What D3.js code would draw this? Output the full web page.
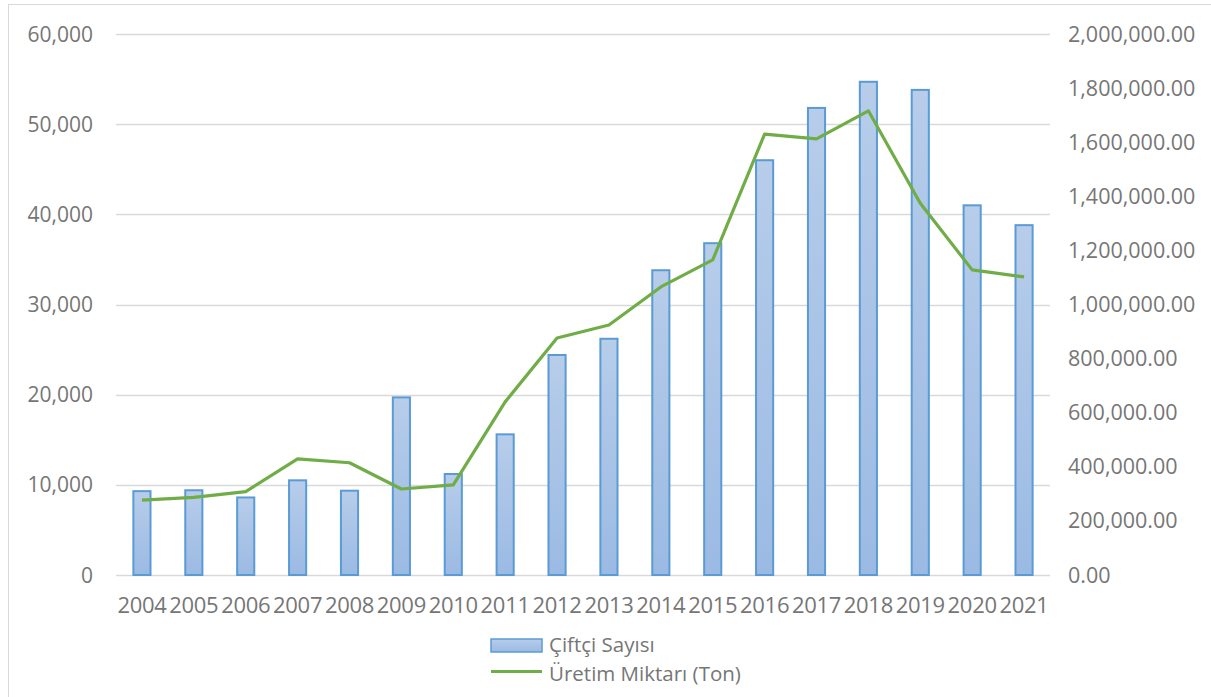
<!DOCTYPE html>
<html><head><meta charset="utf-8">
<script src="https://cdn.jsdelivr.net/npm/d3@7"></script>
<style>body{margin:0;background:#fff}svg{display:block}text{font-family:"Open Sans",sans-serif;fill:#767676}</style>
</head><body>
<script>
const years = ["2004","2005","2006","2007","2008","2009","2010","2011","2012","2013","2014","2015","2016","2017","2018","2019","2020","2021"];
const farmers = [9300,9400,8600,10500,9350,19700,11200,15600,24400,26200,33800,36800,46000,51800,54700,53800,41000,38800];
const production = [277000,287000,308000,429000,415000,318000,333000,640000,876000,924000,1065000,1165000,1630000,1612000,1716000,1374000,1128000,1102000];
const leftTicks = [0,10000,20000,30000,40000,50000,60000];
const rightTicks = [0,200000,400000,600000,800000,1000000,1200000,1400000,1600000,1800000,2000000];
const legendLabels = ["Çiftçi Sayısı","Üretim Miktarı (Ton)"];

const W=1211,H=697;
const svg=d3.select("body").append("svg").attr("width",W).attr("height",H);
const defs=svg.append("defs");
const g=defs.append("linearGradient").attr("id","bg").attr("x1",0).attr("x2",0).attr("y1",0).attr("y2",1);
g.append("stop").attr("offset","0%").attr("stop-color","#b7cdea");
g.append("stop").attr("offset","100%").attr("stop-color","#9bbae3");

svg.append("rect").attr("x",8.5).attr("y",4.5).attr("width",W).attr("height",H).attr("fill","none").attr("stroke","#d9d9d9");

const x=d3.scaleBand().domain(years).range([116,1050]).paddingInner(0.67).paddingOuter(0.335);
const yL=d3.scaleLinear().domain([0,60000]).range([575,34]);
const yR=d3.scaleLinear().domain([0,2000000]).range([575,34]);

svg.append("g").selectAll("line").data(leftTicks).join("line")
 .attr("x1",116).attr("x2",1050).attr("y1",d=>Math.round(yL(d))+0.5).attr("y2",d=>Math.round(yL(d))+0.5)
 .attr("stroke","#d9d9d9").attr("stroke-width",1.3);

const fmtL=d3.format(",");
const fmtR=d3.format(",.2f");
svg.append("g").selectAll("text").data(leftTicks).join("text")
 .attr("x",93).attr("y",d=>yL(d)+7.5).attr("text-anchor","end").attr("font-size",21).text(d=>fmtL(d));
svg.append("g").selectAll("text").data(rightTicks).join("text")
 .attr("x",1068).attr("y",d=>yR(d)+7.5).attr("text-anchor","start").attr("font-size",21.5).text(d=>fmtR(d));
svg.append("g").selectAll("text").data(years).join("text")
 .attr("x",d=>x(d)+x.bandwidth()/2).attr("y",613).attr("text-anchor","middle").attr("font-size",22).attr("letter-spacing",-0.3).text(d=>d);

svg.append("g").selectAll("rect").data(years).join("rect")
 .attr("x",d=>x(d)).attr("y",(d,i)=>yL(farmers[i])).attr("width",x.bandwidth())
 .attr("height",(d,i)=>yL(0)-yL(farmers[i])).attr("fill","url(#bg)").attr("stroke","#5b9bd5").attr("stroke-width",2);

const line=d3.line().x((d,i)=>x(years[i])+x.bandwidth()/2).y(d=>yR(d));
svg.append("path").datum(production).attr("d",line).attr("fill","none").attr("stroke","#70ad47").attr("stroke-width",3.2).attr("stroke-linejoin","round");

// legend
svg.append("rect").attr("x",491).attr("y",639).attr("width",51).attr("height",13).attr("fill","url(#bg)").attr("stroke","#5b9bd5").attr("stroke-width",1.5);
svg.append("line").attr("x1",491).attr("x2",542).attr("y1",671.5).attr("y2",671.5).attr("stroke","#70ad47").attr("stroke-width",3.2);
svg.append("text").attr("x",549).attr("y",652).attr("font-size",20.5).text(legendLabels[0]);
svg.append("text").attr("x",549).attr("y",681).attr("font-size",20.5).text(legendLabels[1]);
</script>
</body></html>
